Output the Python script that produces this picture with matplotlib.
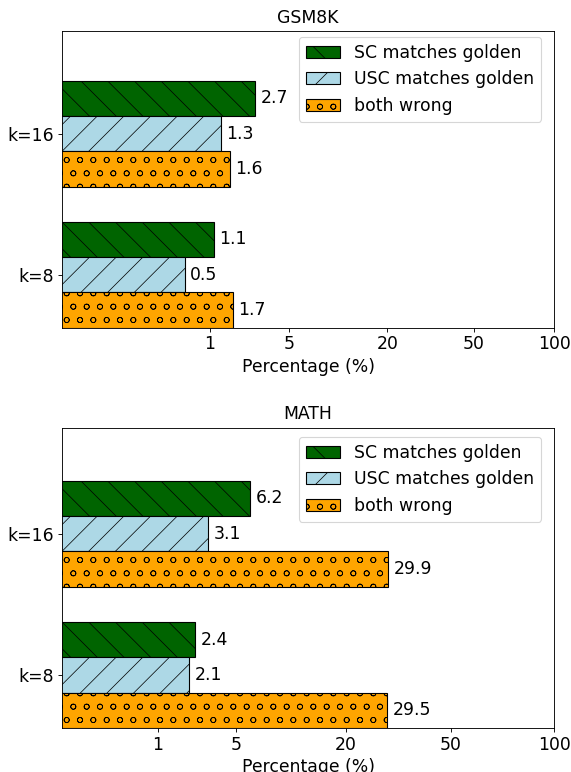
import numpy as np
import matplotlib
matplotlib.use('Agg')
import matplotlib.pyplot as plt

# share of cases (%) per sampling budget, k=16 first then k=8
ks = ['k=16', 'k=8']
gsm8k_sc = [2.7, 1.1]
gsm8k_usc = [1.3, 0.5]
gsm8k_wrong = [1.6, 1.7]
math_sc = [6.2, 2.4]
math_usc = [3.1, 2.1]
math_wrong = [29.9, 29.5]

xticks = [1, 5, 20, 50, 100]
series_labels = ['SC matches golden', 'USC matches golden', 'both wrong']
colors = ['darkgreen', 'lightblue', 'orange']
hatches = ['\\', '/', 'o']

plt.rcParams['font.size'] = 15.5
plt.rcParams['axes.titlesize'] = 15.5
plt.rcParams['hatch.linewidth'] = 0.65


def power_scale(p):
    fwd = lambda x: np.power(np.clip(x, 0, None), p)
    inv = lambda y: np.power(np.clip(y, 0, None), 1.0 / p)
    return fwd, inv


def draw(ax, title, sc, usc, wrong, p, xmin, ytop, legend_anchor):
    ax.set_xscale('function', functions=power_scale(p))
    y = np.arange(len(ks))[::-1]
    h = 0.25
    for vals, off, lab, c, ht in zip([sc, usc, wrong], [h, 0, -h],
                                     series_labels, colors, hatches):
        bars = ax.barh(y + off, vals, height=h, color=c, edgecolor='black',
                       hatch=ht, label=lab)
        for b, v in zip(bars, vals):
            ax.annotate(f'{v}', xy=(v, b.get_y() + h / 2), xytext=(5, 0),
                        textcoords='offset points', va='center', ha='left')
    ax.set_xlim(xmin, 100)
    ax.set_ylim(-0.375, ytop)
    ax.set_xticks(xticks)
    ax.set_xticklabels([str(t) for t in xticks])
    ax.set_yticks(y)
    ax.set_yticklabels(ks)
    ax.set_xlabel('Percentage (%)')
    ax.set_title(title, pad=8)
    ax.legend(loc='upper right', bbox_to_anchor=legend_anchor, borderaxespad=0)


fig = plt.figure(figsize=(571 / 80, 772 / 80), dpi=80)
ax1 = fig.add_axes([0.1086, 0.5755, 0.8617, 0.3837])
ax2 = fig.add_axes([0.1086, 0.0570, 0.8617, 0.3890])

draw(ax1, 'GSM8K', gsm8k_sc, gsm8k_usc, gsm8k_wrong, 0.25, 0.07 ** 4, 1.723,
     (0.9736, 0.9824))
draw(ax2, 'MATH', math_sc, math_usc, math_wrong, 0.325, 0.00384, 1.75,
     (0.9736, 0.97))

fig.savefig('out.png', dpi=80)
